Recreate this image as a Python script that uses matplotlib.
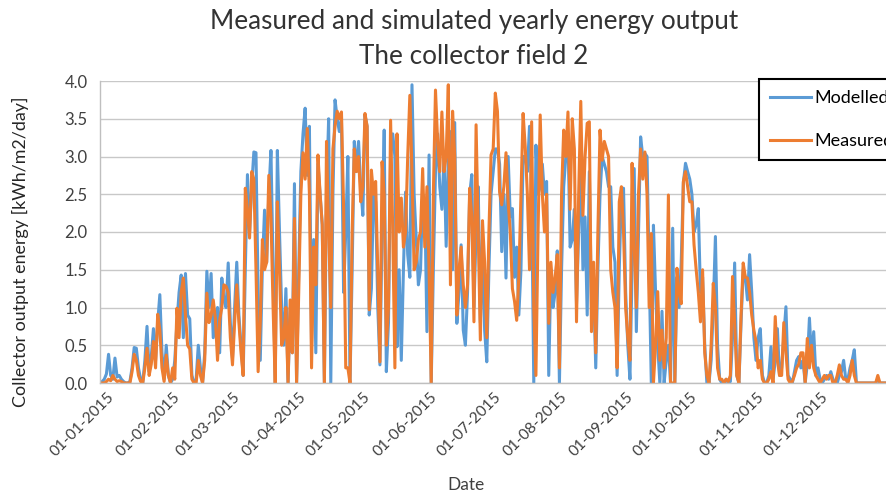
import numpy as np
import matplotlib
matplotlib.use("Agg")
import matplotlib.pyplot as plt
import matplotlib.dates as mdates
from matplotlib.ticker import FormatStrFormatter
from matplotlib.transforms import ScaledTranslation

plt.rcParams['font.family'] = ['Lato', 'DejaVu Sans']

# daily collector output, kWh/m2/day
modelled_jan = [0.0, 0.02, 0.05, 0.12, 0.38, 0.1, 0.05, 0.33, 0.08, 0.1, 0.05, 0.02, 0.0, 0.0, 0.02, 0.2,
                0.47, 0.46, 0.2, 0.05, 0.0, 0.3, 0.75, 0.15, 0.35, 0.72, 0.3, 0.8, 1.17, 0.4, 0.05]
modelled_feb = [0.5, 0.1, 0.0, 0.05, 0.3, 0.8, 1.2, 1.43, 0.6, 1.45, 0.9, 0.85, 0.1, 0.0, 0.05, 0.5,
                0.2, 0.0, 0.4, 1.48, 1.0, 1.45, 0.6, 0.8, 1.0, 0.4, 1.39, 1.1]
modelled_mar = [1.0, 1.59, 0.8, 0.33, 1.0, 1.6, 0.9, 0.5, 0.1, 1.5, 2.76, 2.0, 2.6, 3.06, 3.05, 1.2,
                0.3, 1.55, 2.29, 1.6, 2.5, 3.08, 1.5, 0.0, 3.08, 2.0, 1.0, 0.5, 1.25, 0.0, 1.0]
modelled_apr = [0.4, 2.64, 0.0, 1.5, 2.8, 3.3, 3.64, 2.75, 3.4, 0.5, 1.9, 0.4, 2.9, 2.5, 2.1,
                0.0, 2.5, 3.5, 0.0, 2.5, 3.75, 3.5, 3.33, 3.5, 1.2, 2.0, 3.0, 0.0, 1.5, 3.2]
modelled_may = [2.8, 3.2, 2.6, 2.22, 3.55, 3.4, 0.9, 1.25, 2.5, 2.4, 1.0, 0.24, 2.0, 3.35, 0.15, 0.8,
                3.0, 3.3, 3.0, 0.48, 1.5, 0.3, 1.5, 2.53, 1.7, 1.4, 3.95, 2.5, 1.9, 1.3, 1.5]
modelled_jun = [2.5, 2.4, 0.68, 3.02, 0.0, 1.5, 2.8, 3.3, 2.6, 2.3, 3.0, 1.81, 3.0, 3.33, 1.5, 3.45,
                0.79, 1.2, 1.83, 0.7, 0.5, 1.2, 2.5, 2.76, 1.0, 2.0, 2.6, 0.8, 1.9, 0.7]
modelled_jul = [0.28, 1.5, 2.5, 2.8, 3.1, 3.1, 2.9, 1.74, 2.5, 1.39, 3.0, 2.2, 2.31, 1.4, 1.8, 0.9,
                1.5, 3.0, 3.0, 2.8, 3.4, 2.5, 0.0, 3.15, 2.5, 2.6, 2.9, 2.5, 2.67, 0.1, 1.5]
modelled_aug = [1.0, 1.2, 1.75, 0.0, 1.5, 2.6, 3.0, 3.3, 1.8, 1.9, 2.3, 1.05, 2.0, 3.0, 1.5, 2.2,
                0.9, 2.8, 1.0, 1.3, 0.2, 1.5, 2.5, 3.0, 2.9, 2.8, 2.6, 2.6, 1.8, 1.6, 0.1]
modelled_sep = [1.5, 2.5, 2.58, 1.2, 0.5, 0.05, 1.5, 2.84, 0.68, 2.0, 3.26, 3.0, 3.04, 3.0, 1.5, 0.0,
                2.09, 1.2, 0.5, 0.0, 0.95, 0.0, 0.3, 0.5, 0.0, 2.05, 0.0, 1.4, 1.0, 1.6]
modelled_oct = [2.65, 2.91, 2.8, 2.7, 2.5, 2.0, 2.1, 2.31, 1.2, 1.4, 0.5, 0.0, 0.0, 0.3, 1.0, 1.94,
                0.5, 0.05, 0.0, 0.0, 0.05, 0.0, 0.02, 0.6, 1.59, 0.1, 0.0, 0.8, 1.5, 1.4, 1.1]
modelled_nov = [1.7, 1.2, 0.6, 0.3, 0.6, 0.72, 0.1, 0.0, 0.0, 0.1, 0.48, 0.05, 0.3, 0.72, 0.1, 0.2,
                0.6, 1.01, 0.1, 0.05, 0.0, 0.15, 0.3, 0.35, 0.2, 0.3, 0.0, 0.25, 0.86, 0.3]
modelled_dec = [0.68, 0.1, 0.2, 0.05, 0.0, 0.05, 0.1, 0.05, 0.15, 0.05, 0.0, 0.0, 0.1, 0.15, 0.3, 0.05,
                0.05, 0.2, 0.3, 0.44, 0.0, 0.0, 0.0, 0.0, 0.0, 0.0, 0.0, 0.0, 0.0, 0.0, 0.05]
modelled_jan16 = [0.0, 0.0, 0.0, 0.0]

measured_jan = [0.0, 0.0, 0.0, 0.02, 0.05, 0.03, 0.1, 0.05, 0.02, 0.03, 0.02, 0.0, 0.0, 0.0, 0.0, 0.15,
                0.38, 0.3, 0.1, 0.02, 0.0, 0.2, 0.46, 0.1, 0.25, 0.55, 0.2, 0.91, 0.7, 0.2, 0.02]
measured_feb = [0.37, 0.1, 0.0, 0.2, 0.05, 0.99, 0.6, 1.2, 1.39, 0.9, 0.5, 0.45, 0.05, 0.0, 0.0, 0.3,
                0.1, 0.0, 0.3, 1.19, 0.8, 0.9, 1.1, 0.85, 0.3, 0.83, 1.0, 1.3]
measured_mar = [1.28, 1.2, 0.6, 0.24, 0.8, 1.3, 0.8, 0.4, 0.1, 2.58, 2.3, 1.92, 2.8, 2.7, 1.5, 0.15,
                0.8, 1.9, 1.5, 1.6, 2.75, 2.2, 1.0, 0.0, 2.4, 1.5, 0.5, 0.6, 1.0, 0.0, 1.1]
measured_apr = [0.4, 2.18, 0.0, 1.2, 2.5, 3.05, 2.7, 3.37, 2.5, 0.2, 1.8, 1.3, 3.02, 2.5, 2.1,
                0.0, 3.2, 2.0, 1.0, 3.1, 3.4, 3.6, 3.5, 3.59, 2.33, 0.2, 0.2, 0.0, 2.0, 3.1]
measured_may = [2.8, 3.0, 2.4, 2.6, 3.57, 3.4, 0.97, 2.82, 2.5, 2.67, 1.5, 0.28, 2.93, 2.5, 0.5, 1.0,
                3.48, 2.0, 0.2, 3.3, 2.0, 2.45, 1.8, 2.0, 3.0, 3.81, 2.8, 1.5, 1.6, 1.9, 2.0]
measured_jun = [2.84, 1.8, 2.6, 1.5, 0.0, 2.5, 3.88, 3.2, 2.8, 3.59, 2.8, 3.0, 3.95, 1.3, 3.6, 3.0,
                0.9, 1.5, 1.8, 1.3, 1.0, 1.3, 2.58, 2.2, 0.81, 3.42, 2.0, 0.57, 2.15, 1.6]
measured_jul = [0.6, 2.0, 3.02, 3.1, 3.84, 3.6, 2.53, 2.36, 2.6, 3.05, 2.4, 2.0, 1.25, 1.08, 0.83, 1.4,
                2.5, 3.57, 3.13, 2.5, 1.5, 3.46, 1.0, 0.1, 2.0, 3.55, 2.5, 2.0, 2.5, 0.79, 1.6]
measured_aug = [1.2, 1.4, 1.7, 0.2, 2.5, 3.35, 3.0, 3.59, 2.3, 3.5, 3.1, 0.81, 2.5, 3.73, 2.22, 3.0,
                3.44, 3.46, 0.68, 1.6, 0.4, 2.0, 3.35, 2.95, 3.2, 3.1, 3.0, 1.5, 1.2, 1.0, 0.2]
measured_sep = [2.4, 2.6, 2.0, 0.99, 0.6, 0.3, 2.91, 1.8, 1.0, 2.5, 3.1, 2.7, 3.06, 2.5, 1.0, 1.98,
                0.0, 0.5, 1.21, 0.3, 0.7, 0.2, 0.6, 2.49, 0.0, 0.0, 0.0, 1.52, 1.19, 1.05]
measured_oct = [2.67, 2.8, 2.6, 2.4, 2.4, 1.83, 1.5, 1.2, 0.81, 1.5, 0.4, 0.1, 0.0, 0.5, 1.32, 1.0,
                0.2, 0.05, 0.05, 0.0, 0.05, 0.02, 0.1, 1.41, 0.8, 0.1, 0.0, 0.9, 1.59, 1.4, 1.39]
measured_nov = [1.2, 0.9, 0.7, 0.55, 0.2, 0.3, 0.05, 0.0, 0.0, 0.05, 0.15, 0.0, 0.88, 0.3, 0.1, 0.1,
                0.8, 0.4, 0.05, 0.0, 0.02, 0.1, 0.2, 0.25, 0.4, 0.4, 0.0, 0.59, 0.2, 0.5]
measured_dec = [0.2, 0.1, 0.05, 0.0, 0.05, 0.1, 0.05, 0.1, 0.1, 0.0, 0.0, 0.1, 0.24, 0.1, 0.05, 0.05,
                0.0, 0.1, 0.3, 0.1, 0.0, 0.0, 0.0, 0.0, 0.0, 0.0, 0.0, 0.0, 0.0, 0.0, 0.1]
measured_jan16 = [0.0, 0.0, 0.0, 0.0]

modelled = np.array(modelled_jan + modelled_feb + modelled_mar + modelled_apr + modelled_may + modelled_jun
                    + modelled_jul + modelled_aug + modelled_sep + modelled_oct + modelled_nov + modelled_dec
                    + modelled_jan16)
measured = np.array(measured_jan + measured_feb + measured_mar + measured_apr + measured_may + measured_jun
                    + measured_jul + measured_aug + measured_sep + measured_oct + measured_nov + measured_dec
                    + measured_jan16)

start = np.datetime64('2015-01-01')
dates = start + np.arange(len(modelled))
month_ticks = np.arange('2015-01', '2016-01', dtype='datetime64[M]').astype('datetime64[D]')

fig = plt.figure(figsize=(8.87, 4.95), dpi=100)
ax = fig.add_axes([100 / 887, 1 - 383 / 495, 787 / 887, 302 / 495])

ax.plot(dates, modelled, color='#5B9BD5', lw=2.2, label='Modelled', solid_joinstyle='round')
ax.plot(dates, measured, color='#ED7D31', lw=2.2, label='Measured', solid_joinstyle='round')

x0 = mdates.date2num(start)
ax.set_xlim(x0, x0 + 368.3)
ax.set_ylim(0, 4)
ax.set_yticks(np.arange(0, 4.01, 0.5))
ax.yaxis.set_major_formatter(FormatStrFormatter('%.1f'))
ax.set_xticks(month_ticks)
ax.xaxis.set_major_formatter(mdates.DateFormatter('%d-%m-%Y'))

ax.grid(axis='y', color='#c8c8c8', lw=1)
ax.set_axisbelow(True)
for s in ['top', 'right']:
    ax.spines[s].set_visible(False)
for s in ['left', 'bottom']:
    ax.spines[s].set_color('#bfbfbf')
    ax.spines[s].set_linewidth(1)

ax.tick_params(axis='both', length=0, labelsize=12, labelcolor='#404040')
ax.tick_params(axis='x', labelsize=11.2, pad=5)
ax.tick_params(axis='y', pad=9)
offset = ScaledTranslation(5 / 72, 0, fig.dpi_scale_trans)
for lab in ax.get_xticklabels():
    lab.set_rotation(45)
    lab.set_ha('right')
    lab.set_rotation_mode('anchor')
    lab.set_transform(lab.get_transform() + offset)

fig.text(474 / 887, 1 - 22 / 495, 'Measured and simulated yearly energy output',
         ha='center', va='center', fontsize=18.8, color='#333333')
fig.text(474 / 887, 1 - 57 / 495, 'The collector field 2',
         ha='center', va='center', fontsize=18.8, color='#333333')
fig.text(20 / 887, 1 - 252 / 495, 'Collector output energy [kWh/m2/day]',
         rotation=90, ha='center', va='center', fontsize=12.9, color='#262626')
fig.text(466 / 887, 1 - 485 / 495, 'Date', ha='center', va='center', fontsize=12.5, color='#404040')

leg = ax.legend(loc='upper left', bbox_to_anchor=(759 / 887, 1 - 79 / 495), bbox_transform=fig.transFigure,
                frameon=True, fancybox=False, edgecolor='black', framealpha=1, borderaxespad=0,
                handlelength=2.3, handletextpad=0.15, labelspacing=1.5, fontsize=13, borderpad=0.6)
leg.get_frame().set_linewidth(1.5)

fig.savefig('out.png', dpi=100)
